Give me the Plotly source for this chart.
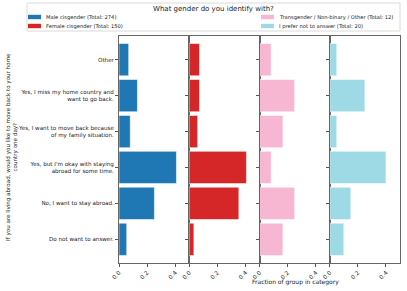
import plotly.graph_objects as go
from plotly.subplots import make_subplots

# ---- data ----
categories = [
    "Do not want to answer.",
    "No, I want to stay abroad.",
    "Yes, but I'm okay with staying<br>abroad for some time.",
    "Yes, I want to move back because<br>of my family situation.",
    "Yes, I miss my home country and<br>want to go back.",
    "Other",
]
groups = [
    "Male cisgender (Total: 274)",
    "Female cisgender (Total: 150)",
    "Transgender / Non-binary / Other (Total: 12)",
    "I prefer not to answer (Total: 20)",
]
male = [0.055, 0.252, 0.409, 0.080, 0.131, 0.069]
female = [0.033, 0.353, 0.407, 0.060, 0.073, 0.073]
trans = [0.1667, 0.25, 0.0833, 0.1667, 0.25, 0.0833]
prefer = [0.10, 0.15, 0.40, 0.05, 0.25, 0.05]
series = [male, female, trans, prefer]
colors = ["#1f77b4", "#d62728", "#f7b6d2", "#9edae5"]
x_ticks = [0.0, 0.2, 0.4]

W, H = 407, 291
L, R, T, B = 119, 7, 36, 28
PW, PH = W - L - R, H - T - B

def px(x):
    return (x - L) / PW

def py(y):
    return (H - B - y) / PH

FONT = "DejaVu Sans"
fig = make_subplots(rows=1, cols=4, shared_yaxes=True, horizontal_spacing=0)

for i, (vals, col, name) in enumerate(zip(series, colors, groups)):
    fig.add_trace(
        go.Bar(
            x=vals, y=categories, orientation="h", name=name,
            marker=dict(color=col, line=dict(color="rgba(255,255,255,0.55)", width=1)),
            showlegend=False,
        ),
        row=1, col=i + 1,
    )
    fig.update_xaxes(
        range=[0, 0.5], tickvals=x_ticks, ticktext=["0.0", "0.2", "0.4"],
        tickangle=-45, ticks="outside", ticklen=3, tickcolor="#555",
        tickfont=dict(size=5.8, family=FONT, color="#222"),
        showline=True, linecolor="#666", linewidth=1, mirror=True,
        showgrid=False, zeroline=False, automargin=False, row=1, col=i + 1,
    )
    fig.update_yaxes(
        range=[-0.66, 5.66], ticks="outside", ticklen=3, tickcolor="#555",
        tickfont=dict(size=5.6, family=FONT, color="#222"),
        showline=True, linecolor="#666", linewidth=1, mirror=True,
        showgrid=False, zeroline=False, automargin=False, row=1, col=i + 1,
    )

fig.update_layout(
    width=W, height=H, margin=dict(l=L, r=R, t=T, b=B, autoexpand=False),
    plot_bgcolor="white", paper_bgcolor="white", bargap=0.1,
    font=dict(family=FONT, color="#222"),
)

# legend box (manual)
fig.add_shape(type="rect", xref="paper", yref="paper",
              x0=px(27), x1=px(400), y0=py(31), y1=py(3),
              line=dict(color="#d0d0d0", width=0.8), fillcolor="white")
fig.add_annotation(text="What gender do you identify with?", xref="paper", yref="paper",
                   x=px(213), y=py(9), showarrow=False, xanchor="center", yanchor="middle",
                   font=dict(size=7, family=FONT, color="#222"))
leg_pos = [(28, 17), (28, 26), (261, 17), (261, 26)]
for (lx, ly), col, name in zip(leg_pos, colors, groups):
    fig.add_shape(type="rect", xref="paper", yref="paper",
                  x0=px(lx), x1=px(lx + 13), y0=py(ly + 2.2), y1=py(ly - 2.2),
                  line=dict(width=0), fillcolor=col)
    fig.add_annotation(text=name, xref="paper", yref="paper",
                       x=px(lx + 16), y=py(ly), showarrow=False,
                       xanchor="left", yanchor="middle",
                       font=dict(size=5.2, family=FONT, color="#222"))

# axis titles
fig.add_annotation(text="Fraction of group in category", xref="paper", yref="paper",
                   x=px(295), y=py(282), showarrow=False, xanchor="center", yanchor="middle",
                   font=dict(size=6, family=FONT, color="#222"))
fig.add_annotation(text="If you are living abroad, would you like to move back to your home<br>country one day?",
                   xref="paper", yref="paper", x=px(12), y=py(147), showarrow=False,
                   textangle=-90, xanchor="center", yanchor="middle",
                   font=dict(size=5.6, family=FONT, color="#222"))

fig.write_html("out.html", config={"displayModeBar": False},
               post_script="document.body.style.margin='0';")
